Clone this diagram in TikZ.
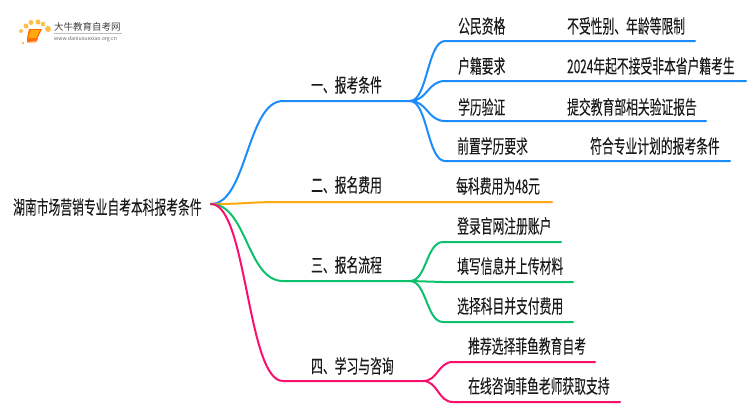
\documentclass[tikz,border=0pt]{standalone}
\usepackage{fontspec}
\setmainfont{Noto Sans CJK SC}[FakeStretch=0.62,FakeBold=0.06]
\newfontfamily\logofont{Noto Sans CJK SC}
\definecolor{cblue}{HTML}{1C8CFB}
\definecolor{corange}{HTML}{FCA90F}
\definecolor{cgreen}{HTML}{0CC16C}
\definecolor{cpink}{HTML}{FB0F6C}
\definecolor{cink}{HTML}{1A1A1A}
\tikzset{
  lab/.style={anchor=west,inner sep=0pt,text=cink,font=\fontsize{19pt}{21pt}\selectfont},
  link/.style={line width=2pt,line cap=round,line join=round},
}
\usetikzlibrary{calc}
\newcommand{\branch}[4]{\draw[link,#1] (#2) .. controls ($(#2)!0.5!(#2-|#3)$) and ($(#3)!0.5!(#2|-#3)$) .. (#3) -- (#4);}
\begin{document}
\begin{tikzpicture}[x=1pt,y=-1pt]
\useasboundingbox (0,0) rectangle (750,410);
% logo
\foreach \px/\py/\r in {23/43/1.3,21/31/2,26/26/2.5,31/22.5/2.5,38/22/2.6,43/24/2.2,48/29/3}
  \fill[corange!75] (\px,\py) circle (\r);
\fill[orange!85!red] (29,29) -- (42,29) -- (36,41) -- (27,42) -- (27,38) -- cycle;
\fill[corange] (31,30) -- (40,30) -- (36,38) -- (28,38) -- cycle;
\draw[orange!80!red,line width=.6pt] (27,42) -- (36,42) -- (38,38);
\node[font=\logofont\fontsize{9.5pt}{11pt}\selectfont,text=black!75,inner sep=0pt,anchor=west] (brand) at (54,27) {大牛教育自考网};
\draw[black!25,line width=.5pt] (54,33.5) -- (122,33.5);
\node[font=\logofont\fontsize{5.2pt}{6pt}\selectfont,text=black!60,inner sep=0pt,anchor=west] (url) at (54,39) {www.daniuxuexiao.org.cn};
% points
\coordinate (r) at (211,204);
\coordinate (a) at (283,101); \coordinate (aa) at (410,101);
\coordinate (b) at (283,202); \coordinate (bb) at (552,202);
\coordinate (c) at (283,281); \coordinate (cc) at (410,281);
\coordinate (d) at (283,381); \coordinate (dd) at (423,381);
\coordinate (a1) at (445,41); \coordinate (a1e) at (695,41);
\coordinate (a2) at (445,81); \coordinate (a2e) at (746,81);
\coordinate (a3) at (445,121); \coordinate (a3e) at (706,121);
\coordinate (a4) at (445,161); \coordinate (a4e) at (730,161);
\coordinate (c1) at (443,242); \coordinate (c1e) at (561,242);
\coordinate (c2) at (443,282); \coordinate (c2e) at (573,282);
\coordinate (c3) at (443,322); \coordinate (c3e) at (573,322);
\coordinate (d1) at (453,362); \coordinate (d1e) at (595,362);
\coordinate (d2) at (453,402); \coordinate (d2e) at (620,402);
% connectors
\branch{cblue}{r}{a}{aa}
\branch{corange}{r}{b}{bb}
\branch{cgreen}{r}{c}{cc}
\branch{cpink}{r}{d}{dd}
\foreach \n in {1,2,3,4} {\branch{cblue}{aa}{a\n}{a\n e}}
\foreach \n in {1,2,3} {\branch{cgreen}{cc}{c\n}{c\n e}}
\foreach \n in {1,2} {\branch{cpink}{dd}{d\n}{d\n e}}
% labels
\node[lab] (root) at (13,207) {湖南市场营销专业自考本科报考条件};
\node[lab] (la) at (311,85) {一、报考条件};
\node[lab] (lb) at (311,185) {二、报名费用};
\node[lab] (lc) at (311,265) {三、报名流程};
\node[lab] (ld) at (311,366) {四、学习与咨询};
\node[lab] (n1) at (458,26) {公民资格};
\node[lab] (v1) at (567,26) {不受性别、年龄等限制};
\node[lab] (n2) at (458,66) {户籍要求};
\node[lab] (v2) at (567,66) {2024年起不接受非本省户籍考生};
\node[lab] (n3) at (458,107) {学历验证};
\node[lab] (v3) at (567,107) {提交教育部相关验证报告};
\node[lab] (n4) at (457,146) {前置学历要求};
\node[lab] (v4) at (590,146) {符合专业计划的报考条件};
\node[lab] (n5) at (456,186) {每科费用为48元};
\node[lab] (m1) at (457,226) {登录官网注册账户};
\node[lab] (m2) at (457,266) {填写信息并上传材料};
\node[lab] (m3) at (457,306) {选择科目并支付费用};
\node[lab] (p1) at (468,346) {推荐选择菲鱼教育自考};
\node[lab] (p2) at (468,386) {在线咨询菲鱼老师获取支持};
\end{tikzpicture}
\end{document}
